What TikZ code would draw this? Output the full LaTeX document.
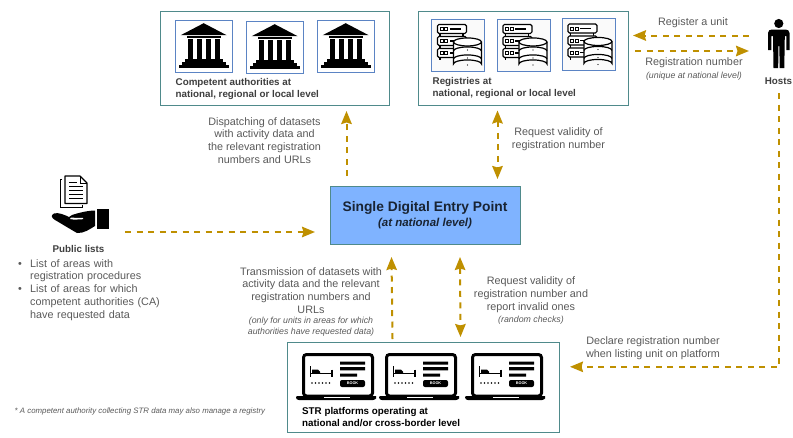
\documentclass[tikz,border=0pt]{standalone}
\usepackage{fontspec}
\setmainfont{Liberation Sans}
\usetikzlibrary{arrows.meta,calc}
\definecolor{arrowc}{HTML}{BF9000}
\definecolor{textc}{HTML}{595959}
\definecolor{tealc}{HTML}{4F8A8B}
\definecolor{iconb}{HTML}{5B84C4}
\definecolor{entry}{HTML}{7FB3FF}
\tikzset{
  flow/.style={draw=arrowc,line width=2pt,dash pattern=on 6pt off 5.5pt},
  onehead/.style={flow,-{Stealth[length=13pt,width=10.5pt,inset=1.5pt,fill=arrowc,sharp]}},
  twohead/.style={flow,{Stealth[length=13pt,width=10.5pt,inset=1.5pt,fill=arrowc,sharp]}-{Stealth[length=13pt,width=10.5pt,inset=1.5pt,fill=arrowc,sharp]}},
  groupbox/.style={draw=tealc,line width=1pt,fill=white,inner sep=0pt,anchor=north west},
  iconbox/.style={draw=iconb,line width=0.9pt,inner sep=0pt,anchor=north west},
  lab/.style={text=textc,font=\fontsize{10.8}{12.9}\selectfont,align=center,inner sep=0pt},
  small/.style={text=textc,font=\fontsize{8.8}{10.5}\selectfont\itshape,align=center,inner sep=0pt},
  head/.style={text=textc!80!black,font=\fontsize{9.8}{12.2}\selectfont\bfseries,align=left,inner sep=0pt,anchor=west},
  pics/bank/.style={code={
    \fill[black] (0,-23) -- (23,-11) -- (-23,-11) -- cycle;
    \fill[black] (-17,-10) rectangle (17,-8);
    \foreach \xx in {-16,-7,2,11}{\fill[black] (\xx,-7) rectangle ++(5,20);}
    \fill[black] (-19,13) rectangle (19,16);
    \fill[black] (-22,16) rectangle (22,19);
    \fill[black] (-25,19) rectangle (25,22);
  }},
  pics/serverdb/.style={code={
    \foreach \yy in {-20.5,-8.5,3.5}{
      \draw[black,line width=1.1pt,rounded corners=1.5pt,fill=white] (-20.5,\yy) rectangle ++(29,9);
      \draw[black,line width=0.9pt] (-18,\yy+3) rectangle ++(3,3) (-13.5,\yy+3) rectangle ++(3,3);
      \draw[black,line width=1.1pt] (-8,\yy+4.5) -- (3,\yy+4.5);
      \draw[black,line width=1.1pt] (-18,\yy+9) -- (-18,\yy+12) (5,\yy+9) -- (5,\yy+12);
    }
    \draw[black,line width=1.2pt,fill=white] (-4.5,-3) -- (-4.5,19) arc[start angle=180,end angle=360,x radius=14,y radius=4] -- (23.5,-3);
    \draw[black,line width=1.2pt,fill=white] (9.5,-3) ellipse[x radius=14,y radius=4];
    \draw[black,line width=1.2pt] (-4.5,6) arc[start angle=180,end angle=360,x radius=14,y radius=4];
    \draw[black,line width=1.2pt] (-4.5,14) arc[start angle=180,end angle=360,x radius=14,y radius=4];
    \fill[black] (9.5,5) circle (0.6) (9.5,13) circle (0.6) (9.5,20) circle (0.6);
  }},
  pics/laptop/.style={code={
    \draw[black,line width=3pt,rounded corners=3pt,fill=white] (1.5,1.5) rectangle (70.5,43);
    \fill[black] (-6,43) -- (74,43) -- (74,45.5) [rounded corners=1pt] -- (72,47) -- (-4,47) -- (-6,45.5) -- cycle;
    \fill[white] (22,43.6) rectangle (48,44.8);
    \draw[black,line width=1.5pt] (8.5,13) -- (8.5,24) (8.5,20.5) -- (30,20.5) (30,16.5) -- (30,24);
    \fill[black] (10,16.5) -- (16,16.5) -- (18,18.5) -- (18,20) -- (10,20) -- cycle;
    \foreach \xx in {10,13.5,17,20.5,24,27.5}{\fill[black] (\xx,30) circle (0.9);}
    \fill[black] (38,8.5) rectangle (63,11.6) (38,14.2) rectangle (63,17.3) (38,20.5) rectangle (55,23.6);
    \node[fill=black,text=white,rounded corners=2pt,minimum width=25pt,minimum height=7pt,inner sep=0pt,font=\fontsize{3.8}{4}\selectfont\bfseries] at (50.5,30.5) {BOOK};
  }},
}
\begin{document}
\begin{tikzpicture}[x=1pt,y=-1pt]
\useasboundingbox (0,0) rectangle (793,437);

% group boxes
\node[groupbox,minimum width=229pt,minimum height=94pt] (ca) at (160,10.5) {};
\node[groupbox,minimum width=210pt,minimum height=94pt] (reg) at (417.5,10.5) {};
\node[groupbox,minimum width=272.5pt,minimum height=90pt] (str) at (286.5,342) {};

% authority icons
\node[iconbox,minimum width=57.5pt,minimum height=51.5pt] (ca1) at (174.5,20) {};
\node[iconbox,minimum width=57.5pt,minimum height=51.5pt] (ca2) at (245.5,21) {};
\node[iconbox,minimum width=57.5pt,minimum height=51.5pt] (ca3) at (316.5,20) {};
\path (ca1.center) pic {bank} (ca2.center) pic {bank} (ca3.center) pic {bank};
\node[head,text=textc!70!black] (catext) at (175.5,89) {Competent authorities at\\national, regional or local level};

% registry icons
\node[iconbox,minimum width=53pt,minimum height=52pt,fill=black!2] (reg1) at (431,18.5) {};
\node[iconbox,minimum width=53pt,minimum height=52pt,fill=black!2] (reg2) at (496.5,18.5) {};
\node[iconbox,minimum width=53pt,minimum height=52pt,fill=black!2] (reg3) at (561.5,18) {};
\path (reg1.center) pic {serverdb} (reg2.center) pic {serverdb} (reg3.center) pic {serverdb};
\node[head,text=textc!70!black] (regtext) at (432.5,88) {Registries at\\national, regional or local level};

% hosts
\fill[black] (778.8,23.5) circle (4.6);
\fill[black] (768,33) .. controls (768,30.5) and (770,29.5) .. (772,29.5) -- (785.5,29.5) .. controls (787.5,29.5) and (789.5,30.5) .. (789.5,33) -- (789.5,50) -- (786.3,50) -- (786.3,36) -- (784.8,36) -- (784.3,68) -- (779.6,68) -- (779.4,46) -- (778.4,46) -- (778.2,68) -- (773.5,68) -- (773,36) -- (771.3,36) -- (771.3,50) -- (768,50) -- cycle;
\node[head,anchor=center,text=textc!70!black] (hosts) at (778.5,81) {Hosts};

% entry point
\node[draw=tealc,line width=0.8pt,fill=entry,minimum width=190pt,minimum height=58pt,inner sep=0pt,anchor=north west] (sdep) at (330,186) {};
\node[font=\fontsize{13.8}{16}\selectfont\bfseries,text=black!80!entry,inner sep=0pt] (sdept) at (425,208) {Single Digital Entry Point};
\node[font=\fontsize{11.5}{13}\selectfont\bfseries\itshape,text=black!80!entry,inner sep=0pt] (sdepn) at (425,224) {(at national level)};

% public lists icon
\draw[black,line width=0.9pt] (62,179) -- (60.5,179) -- (60.5,207.5) -- (82,207.5) -- (82,205);
\draw[black,line width=1.1pt,fill=white,line join=round] (65,176) -- (80,176) -- (87,183) -- (87,203.5) -- (65,203.5) -- cycle;
\draw[black,line width=0.9pt] (80,176) -- (80,183) -- (87,183);
\draw[black,line width=1pt] (69,182) -- (77,182) (69,186) -- (83,186) (69,190) -- (83,190) (69,194) -- (83,194) (69,198) -- (83,198);
\fill[black] (97,208.5) rectangle (108.5,228.5);
\fill[black] (95,210.5) .. controls (88,210.5) and (78,213) .. (72,215) -- (69,217) .. controls (65,215) and (58,212) .. (54,213.5) .. controls (50,215.5) and (52,218) .. (55,220) .. controls (62,224) and (70,229) .. (77,233) .. controls (84,233.5) and (90,229) .. (95,226) -- cycle;
\fill[white] (71,217.5) .. controls (75,218.5) and (78,217.5) .. (83,218) -- (83,219.2) .. controls (78,219.2) and (75,220.2) .. (70,219) -- cycle;
\node[head,anchor=center,text=textc!70!black] (pubt) at (78.5,248.5) {Public lists};
\node[lab,anchor=north west,align=left,text width=170pt] (pubb) at (18,259) {%
\makebox[12pt][l]{•}List of areas with\\
\hspace*{12pt}registration procedures\\
\makebox[12pt][l]{•}List of areas for which\\
\hspace*{12pt}competent authorities (CA)\\
\hspace*{12pt}have requested data};

% platforms
\path (302,353) pic {laptop} (385,353) pic {laptop} (471,353) pic {laptop};
\node[head,text=black] (strtext) at (302,417) {STR platforms operating at\\national and/or cross-border level};

% labels
\node[lab] (l1) at (264.5,140.5) {Dispatching of datasets\\with activity data and\\the relevant registration\\numbers and URLs};
\node[lab] (l2) at (558.5,139.5) {Request validity of\\registration number};
\node[lab] (l3) at (693,22.5) {Register a unit};
\node[lab] (l4) at (694,62.5) {Registration number};
\node[small] (l5) at (694,76) {(\textit{unique at national level)}};
\node[lab] (l6) at (311,290.5) {Transmission of datasets with\\activity data and the relevant\\registration numbers and\\URLs};
\node[small] (l7) at (311,326.5) {(only for units in areas for which\\authorities have requested data)};
\node[lab] (l8) at (531,295) {Request validity of\\registration number and\\report invalid ones};
\node[small] (l9) at (531,320.5) {(random checks)};
\node[lab] (l10) at (653,348.5) {Declare registration number\\when listing unit on platform};
\node[text=textc,font=\fontsize{7.85}{9}\selectfont\itshape,inner sep=0pt,anchor=west] (foot) at (14.5,411.5) {* A competent authority collecting STR data may also manage a registry};

% connector ends
\coordinate (a1) at (346.5,176);
\coordinate (a2) at (346.5,111);
\coordinate (b1) at (497.5,110.5);
\coordinate (b2) at (497.5,179);
\coordinate (c1) at (749,35.5);
\coordinate (c2) at (633,35.5);
\coordinate (d1) at (635,51);
\coordinate (d2) at (749,51);
\coordinate (e1) at (125,232);
\coordinate (e2) at (315,232);
\coordinate (f1) at (392.5,339);
\coordinate (f2) at (391.5,257);
\coordinate (g1) at (460,257);
\coordinate (g2) at (460.5,337);
\coordinate (h1) at (778.7,93);
\coordinate (h2) at (778.7,366.8);
\coordinate (h3) at (570,366.8);

% connectors
\draw[onehead] (a1) -- (a2);
\draw[twohead] (b1) -- (b2);
\draw[onehead] (c1) -- (c2);
\draw[onehead] (d1) -- (d2);
\draw[onehead] (e1) -- (e2);
\draw[onehead] (f1) -- (f2);
\draw[twohead] (g1) -- (g2);
\draw[onehead] (h1) -- (h2) -- (h3);
\end{tikzpicture}
\end{document}
